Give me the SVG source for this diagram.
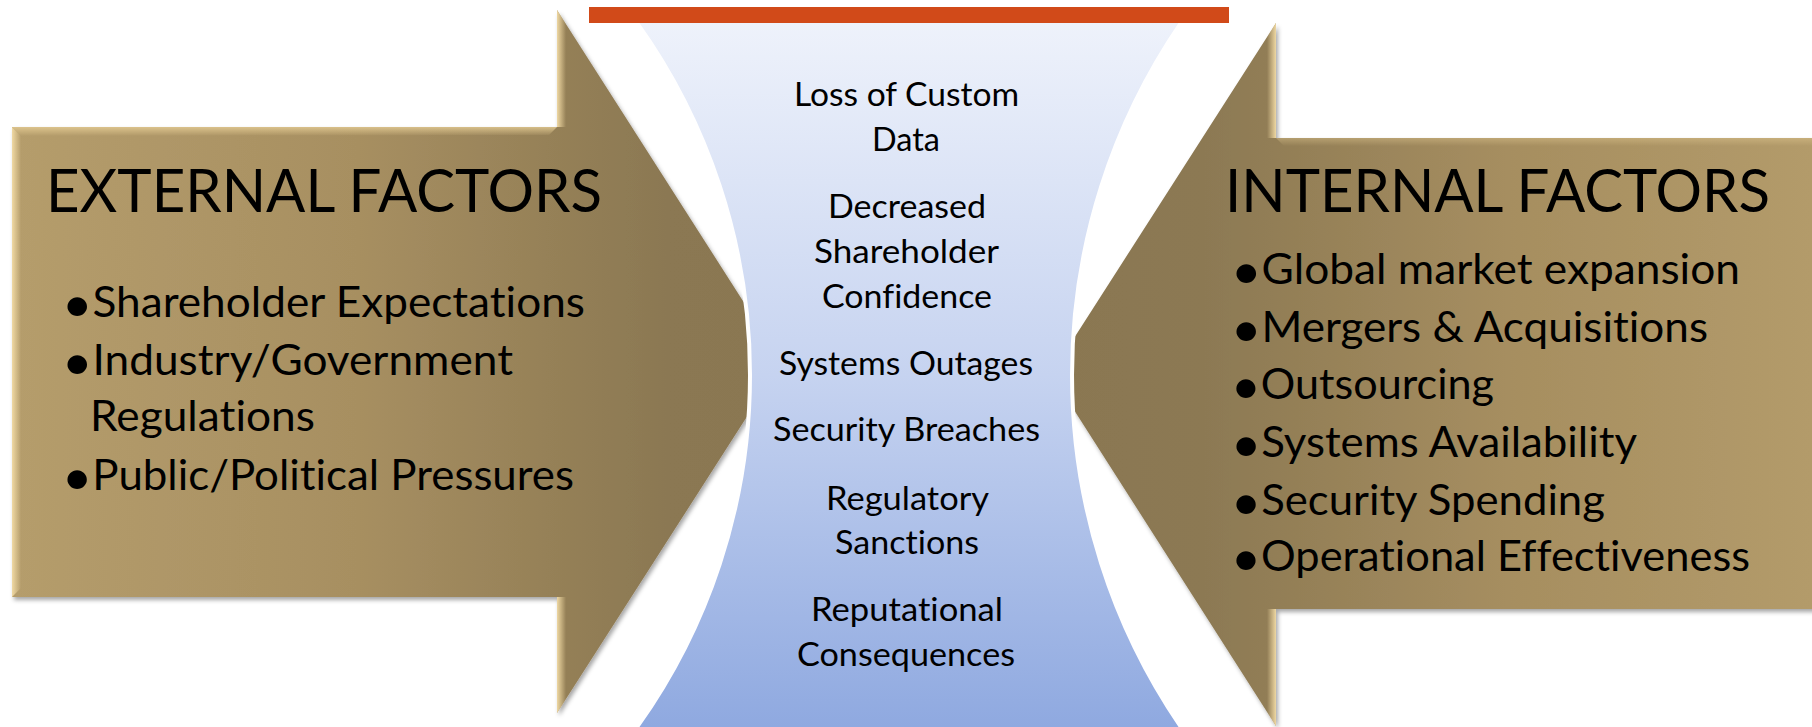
<svg xmlns="http://www.w3.org/2000/svg" width="1812" height="727" viewBox="0 0 1812 727">
<style>
.t{font-family:Lato,"Open Sans","Liberation Sans",sans-serif;fill:#000;font-variant-ligatures:none}
.h{font-size:60px}
.b{font-size:42px}
.bul{font-size:50px}
.m{font-size:32px}
</style>
<defs>
<linearGradient id="gl" gradientUnits="userSpaceOnUse" x1="12" y1="0" x2="782" y2="0">
<stop offset="0" stop-color="#b59d6c"/>
<stop offset="0.45" stop-color="#a78f61"/>
<stop offset="0.85" stop-color="#8b7852"/>
<stop offset="1" stop-color="#8a7751"/>
</linearGradient>
<linearGradient id="gr" gradientUnits="userSpaceOnUse" x1="1051" y1="0" x2="1812" y2="0">
<stop offset="0" stop-color="#8a7751"/>
<stop offset="0.2" stop-color="#8c7953"/>
<stop offset="0.6" stop-color="#a68e60"/>
<stop offset="1" stop-color="#b39b6a"/>
</linearGradient>
<linearGradient id="gb" x1="0" y1="0" x2="0" y2="1">
<stop offset="0" stop-color="#eef2fb"/>
<stop offset="0.5" stop-color="#c6d3f0"/>
<stop offset="1" stop-color="#8fa9e0"/>
</linearGradient>
<linearGradient id="hlR" x1="0" y1="0" x2="1" y2="0">
<stop offset="0" stop-color="#f3dca6" stop-opacity="0.95"/>
<stop offset="1" stop-color="#f3dca6" stop-opacity="0"/>
</linearGradient>
<linearGradient id="hlL" x1="1" y1="0" x2="0" y2="0">
<stop offset="0" stop-color="#f3dca6" stop-opacity="0.95"/>
<stop offset="1" stop-color="#f3dca6" stop-opacity="0"/>
</linearGradient>
<linearGradient id="hlT" x1="0" y1="0" x2="0" y2="1">
<stop offset="0" stop-color="#e6cd95" stop-opacity="0.8"/>
<stop offset="1" stop-color="#e6cd95" stop-opacity="0"/>
</linearGradient>
<filter id="sh" x="-5%" y="-5%" width="110%" height="110%">
<feDropShadow dx="2" dy="3" stdDeviation="2" flood-color="#000" flood-opacity="0.35"/>
</filter>
</defs>

<g id="external-factors">
<polygon points="12,127 557,127 557,10 782,362 557,713 557,597 12,597" fill="url(#gl)" filter="url(#sh)"/>
<polygon points="12,127 21,136 21,588 12,597" fill="url(#hlR)"/>
<polygon points="12,127 557,127 549,135 21,136" fill="url(#hlT)"/>
<polygon points="557,10 566,24 566,127 557,127" fill="url(#hlR)"/>
<polygon points="557,597 566,597 566,699 557,713" fill="url(#hlR)"/>
<text class="t h" x="46" y="212" textLength="556" lengthAdjust="spacingAndGlyphs">EXTERNAL FACTORS</text>
<text class="t b" x="62" y="317" textLength="523" lengthAdjust="spacingAndGlyphs"><tspan class="bul" dy="5">•</tspan><tspan dy="-5">Shareholder Expectations</tspan></text>
<text class="t b" x="62" y="375" textLength="451" lengthAdjust="spacingAndGlyphs"><tspan class="bul" dy="5">•</tspan><tspan dy="-5">Industry/Government</tspan></text>
<text class="t b" x="90" y="431" textLength="225" lengthAdjust="spacingAndGlyphs">Regulations</text>
<text class="t b" x="62" y="490" textLength="512" lengthAdjust="spacingAndGlyphs"><tspan class="bul" dy="5">•</tspan><tspan dy="-5">Public/Political Pressures</tspan></text>
</g>

<g id="internal-factors">
<polygon points="1830,138 1276,138 1276,23 1051,374 1276,726 1276,609 1830,609" fill="url(#gr)" filter="url(#sh)"/>
<polygon points="1276,23 1267,37 1267,138 1276,138" fill="url(#hlL)"/>
<polygon points="1276,609 1267,609 1267,712 1276,726" fill="url(#hlL)"/>
<polygon points="1276,138 1812,138 1812,146 1284,146" fill="url(#hlT)" opacity="0.5"/>
<text class="t h" x="1225" y="212" textLength="545" lengthAdjust="spacingAndGlyphs">INTERNAL FACTORS</text>
<text class="t b" x="1231" y="284" textLength="509" lengthAdjust="spacingAndGlyphs"><tspan class="bul" dy="5">•</tspan><tspan dy="-5">Global market expansion</tspan></text>
<text class="t b" x="1231" y="342" textLength="477" lengthAdjust="spacingAndGlyphs"><tspan class="bul" dy="5">•</tspan><tspan dy="-5">Mergers &amp; Acquisitions</tspan></text>
<text class="t b" x="1231" y="399" textLength="263" lengthAdjust="spacingAndGlyphs"><tspan class="bul" dy="5">•</tspan><tspan dy="-5">Outsourcing</tspan></text>
<text class="t b" x="1231" y="457" textLength="406" lengthAdjust="spacingAndGlyphs"><tspan class="bul" dy="5">•</tspan><tspan dy="-5">Systems Availability</tspan></text>
<text class="t b" x="1231" y="515" textLength="374" lengthAdjust="spacingAndGlyphs"><tspan class="bul" dy="5">•</tspan><tspan dy="-5">Security Spending</tspan></text>
<text class="t b" x="1231" y="571" textLength="519" lengthAdjust="spacingAndGlyphs"><tspan class="bul" dy="5">•</tspan><tspan dy="-5">Operational Effectiveness</tspan></text>
</g>

<g id="consequences">
<path d="M637,23 A604.7,604.7 0 0 1 637,727 L1181,727 A623,623 0 0 1 1181,23 Z" fill="url(#gb)"/>
<path d="M637,23 A604.7,604.7 0 0 1 637,727 M1181,727 A623,623 0 0 1 1181,23" fill="none" stroke="#fff" stroke-width="4"/>
<rect x="589" y="7" width="640" height="16" fill="#d14a19"/>
<text class="t m" x="794" y="106" textLength="225" lengthAdjust="spacingAndGlyphs">Loss of Custom</text>
<text class="t m" x="872" y="151" textLength="68" lengthAdjust="spacingAndGlyphs">Data</text>
<text class="t m" x="828" y="218" textLength="158" lengthAdjust="spacingAndGlyphs">Decreased</text>
<text class="t m" x="814" y="263" textLength="185" lengthAdjust="spacingAndGlyphs">Shareholder</text>
<text class="t m" x="822" y="308" textLength="170" lengthAdjust="spacingAndGlyphs">Confidence</text>
<text class="t m" x="779" y="375" textLength="254" lengthAdjust="spacingAndGlyphs">Systems Outages</text>
<text class="t m" x="773" y="441" textLength="267" lengthAdjust="spacingAndGlyphs">Security Breaches</text>
<text class="t m" x="826" y="510" textLength="163" lengthAdjust="spacingAndGlyphs">Regulatory</text>
<text class="t m" x="835" y="554" textLength="144" lengthAdjust="spacingAndGlyphs">Sanctions</text>
<text class="t m" x="811" y="621" textLength="192" lengthAdjust="spacingAndGlyphs">Reputational</text>
<text class="t m" x="797" y="666" textLength="218" lengthAdjust="spacingAndGlyphs">Consequences</text>
</g>
</svg>
